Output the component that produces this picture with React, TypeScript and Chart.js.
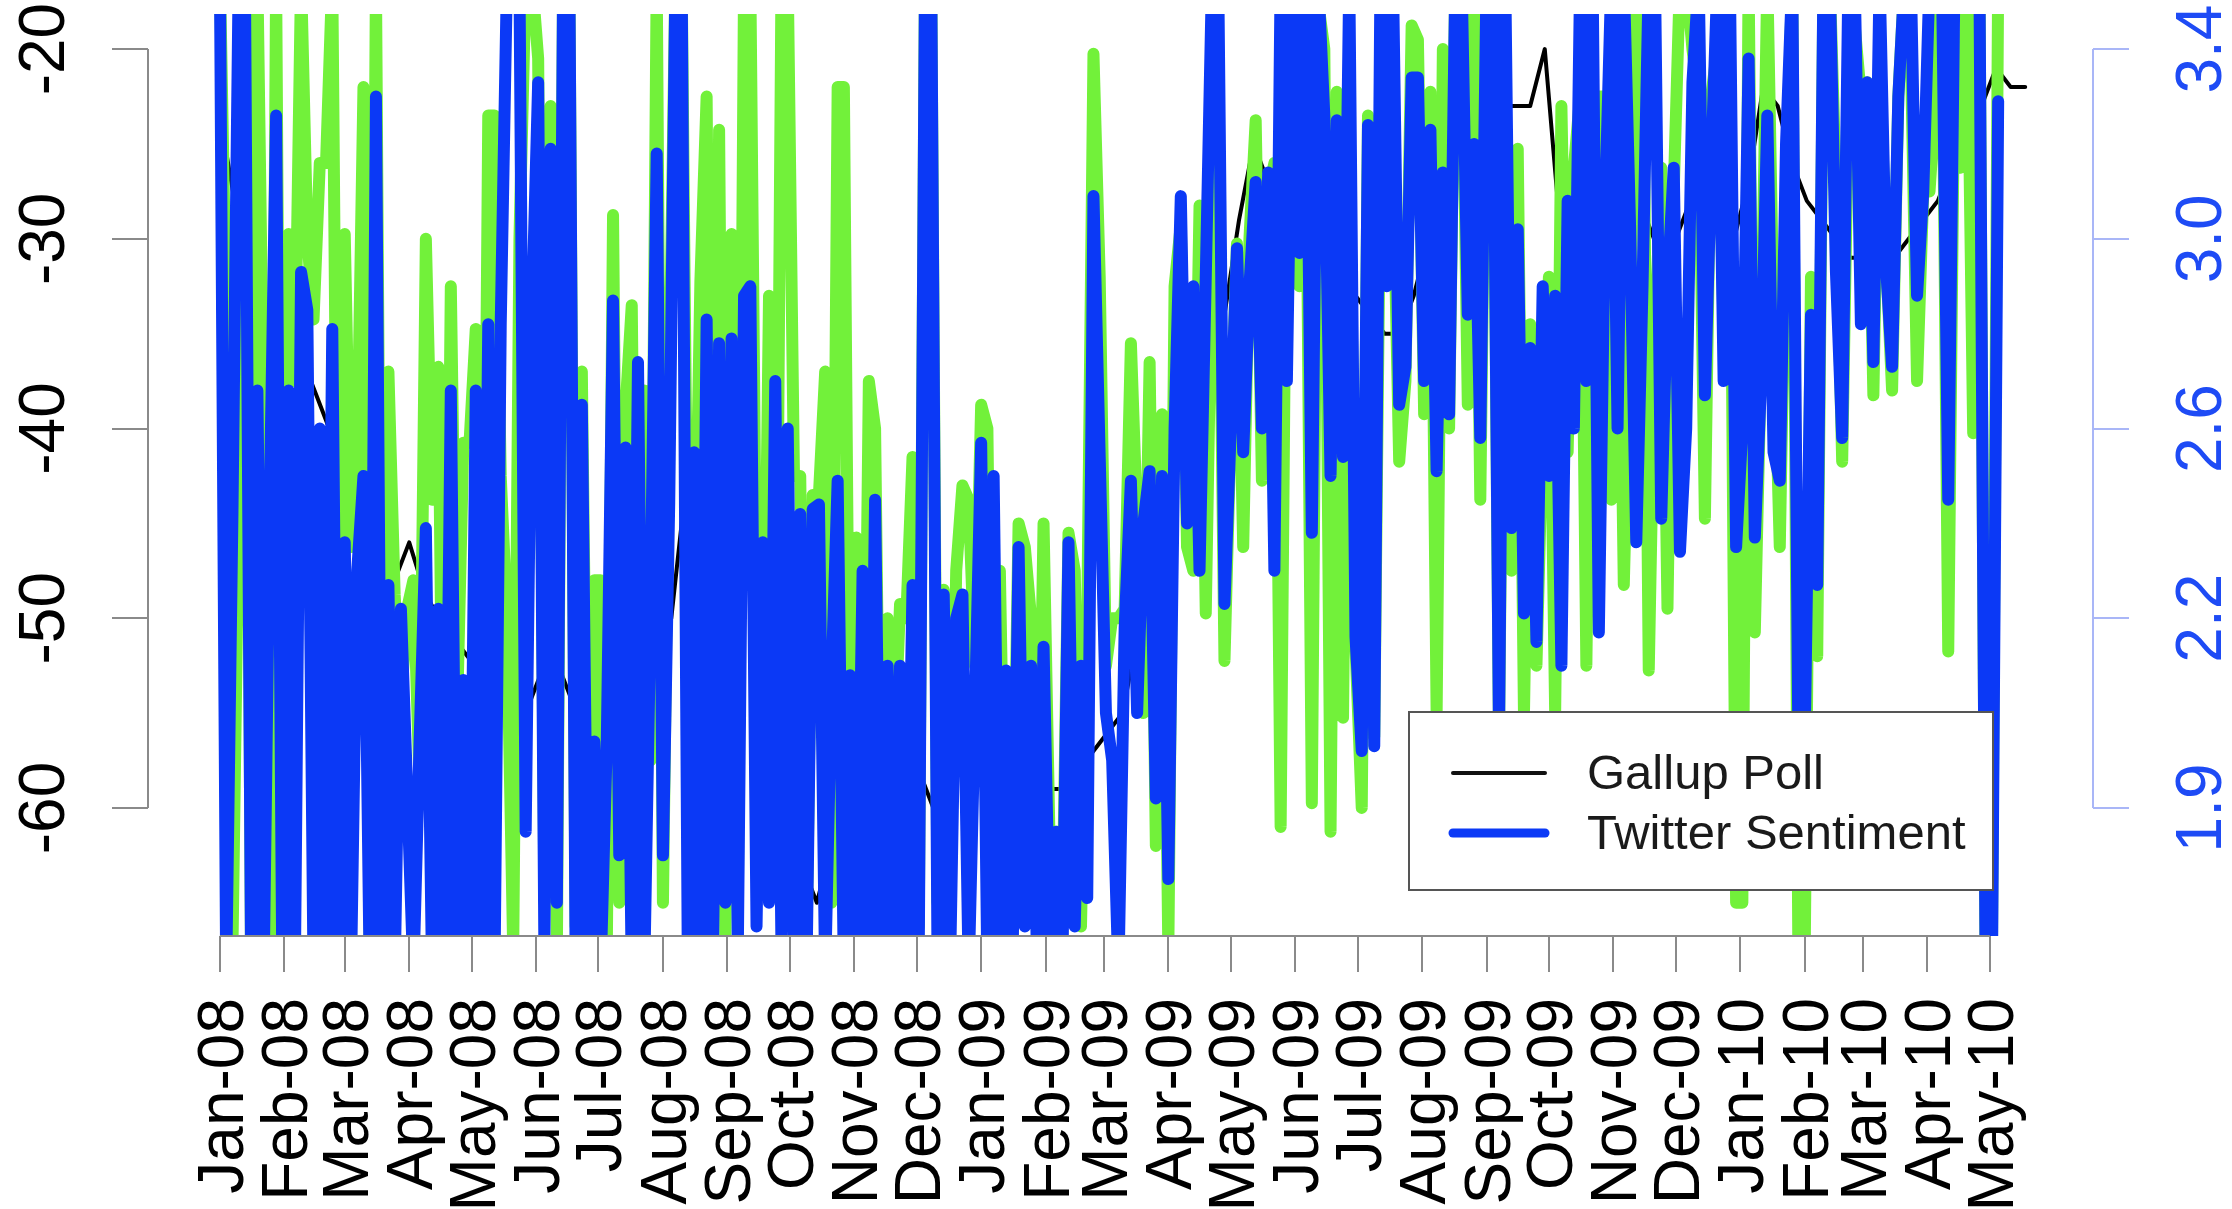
import React, { useEffect, useRef } from "react";
import { Chart, registerables } from "chart.js";

Chart.register(...registerables);

// ---------- data ----------
// month tick positions (days since 1 Jan 2008) and their labels
const monthTickDays = [0, 31, 60, 91, 121, 152, 182, 213, 244, 274, 305, 335, 366, 397, 425, 456, 486, 517, 547, 578, 609, 639, 670, 700, 731, 762, 790, 821, 851];
const monthTickLabels = ["Jan-08", "Feb-08", "Mar-08", "Apr-08", "May-08", "Jun-08", "Jul-08", "Aug-08", "Sep-08", "Oct-08", "Nov-08", "Dec-08", "Jan-09", "Feb-09", "Mar-09", "Apr-09", "May-09", "Jun-09", "Jul-09", "Aug-09", "Sep-09", "Oct-09", "Nov-09", "Dec-09", "Jan-10", "Feb-10", "Mar-10", "Apr-10", "May-10"];

const gallupTicks = [-20, -30, -40, -50, -60];
const gallupTickLabels = ["-20", "-30", "-40", "-50", "-60"];
const sentimentTicks = [3.4, 3.0, 2.6, 2.2, 1.8];
const sentimentTickLabels = ["3.4", "3.0", "2.6", "2.2", "1.9"];

// Gallup poll, weekly from day 0
const gallupStepDays = 7;
const gallupPoll = [
  -23.5, -28, -32, -35.5, -34, -36, -37, -39, -41, -43,
  -44, -46, -48, -46, -48.5, -50, -51, -52, -53, -52,
  -54, -55, -53, -52, -54, -56, -54, -51, -50, -48,
  -49, -50, -43, -42, -41, -42, -41, -46, -55, -60,
  -63, -65, -62, -56, -57, -58, -57, -56, -58, -60,
  -58, -56, -55, -54, -55, -57, -58, -59, -59, -58,
  -57, -56, -55, -51, -46, -40, -39, -33, -30, -34,
  -29, -25, -27, -27, -26, -28, -30, -31, -33, -34,
  -35, -35, -33, -30, -26, -24, -24, -23, -23, -23,
  -23, -20, -29, -28, -27, -25, -24, -26, -29, -31,
  -30, -28, -27, -29, -30, -27, -22, -23, -26, -28,
  -29, -30, -31, -31, -32, -31, -30, -29, -28, -26,
  -25, -23, -21, -22, -22,
];

// Twitter sentiment, every 3 days from day 0
const twitterStepDays = 3;
const twitterSentiment = [
  3.55, 1.45, 2.42, 3.55, 3.55, 1.45, 2.68, 1.45, 2.46, 3.26,
  1.45, 2.68, 1.45, 2.93, 2.85, 1.45, 2.6, 1.45, 2.81, 1.45,
  2.36, 1.45, 2.3, 2.5, 1.45, 3.30, 1.45, 2.27, 1.45, 2.22,
  1.84, 1.45, 1.94, 2.39, 1.45, 2.22, 1.45, 2.68, 1.45, 2.07,
  1.45, 2.68, 1.45, 2.82, 1.45, 2.82, 3.55, 3.55,
  3.55, 1.75, 2.84, 3.33, 1.5, 3.19, 1.6, 3.55, 3.55, 1.5,
  2.65, 1.45, 1.94, 1.45, 1.94, 2.87, 1.7, 2.56, 1.45, 2.74,
  1.45, 2.21, 3.18, 1.7, 2.44, 3.55, 3.55, 1.45, 2.55, 1.45,
  2.83, 1.45, 2.78, 1.6, 2.79, 1.5, 2.88, 2.9, 1.55, 2.36,
  1.6, 2.70, 1.5, 2.6, 1.5, 2.42, 1.45, 2.43,
  2.44, 1.45, 2.06, 2.49, 1.45, 2.08, 1.45, 2.3, 1.45, 2.45,
  1.45, 2.1, 1.5, 2.1, 1.45, 2.27, 1.5, 3.55, 3.55, 1.5,
  2.25, 1.45, 2.2, 2.25, 1.45, 2.0, 2.57, 1.45, 2.5, 1.45,
  2.09, 1.45, 2.35, 1.55, 2.1, 1.45, 2.14, 1.5, 1.75, 1.45,
  2.36, 1.55, 2.1, 1.61, 3.09, 2.54, 2.0, 1.9,
  1.45, 2.18, 2.49, 2.0, 2.4, 2.51, 1.82, 2.50, 1.65, 2.6,
  3.09, 2.40, 2.9, 2.3, 2.92, 3.55, 3.55, 2.23, 2.6, 2.98,
  2.55, 2.9, 3.12, 2.6, 3.14, 2.30, 3.55, 2.7, 3.55, 2.97,
  3.55, 2.38, 3.55, 3.26, 2.5, 3.25, 2.54, 3.55, 2.16, 1.92,
  3.24, 1.93, 3.55, 2.9, 3.55, 2.65, 2.73, 3.34,
  3.34, 2.7, 3.23, 2.51, 3.14, 2.63, 3.55, 3.55, 2.84, 3.2,
  2.58, 3.55, 3.55, 1.95, 3.55, 2.39, 3.02, 2.21, 2.77, 2.15,
  2.9, 2.5, 2.88, 2.1, 3.08, 2.6, 3.55, 2.7, 3.55, 2.17,
  3.07, 3.55, 2.6, 3.55, 3.03, 2.36, 2.9, 3.55, 3.55, 2.41,
  2.9, 3.15, 2.34, 2.6, 3.33, 3.55, 2.67, 3.15,
  3.55, 2.7, 3.55, 2.35, 2.6, 3.38, 2.37, 2.7, 3.26, 2.55,
  2.49, 3.2, 3.55, 1.9, 1.95, 2.84, 2.27, 3.55, 3.55, 2.93,
  2.58, 3.55, 3.55, 2.82, 3.33, 2.74, 3.55, 2.95, 2.73, 3.3,
  3.55, 3.55, 2.88, 3.1, 3.55, 3.55, 3.55, 2.45, 3.55, 3.55,
  3.55, 3.55, 3.55, 1.45, 1.45, 3.29,
];

// second (unlabelled, green) sentiment series, same days
const twitterSentimentRaw = [
  3.55, 2.82, 1.5, 2.45, 3.55, 1.45, 3.55, 2.6, 1.45, 3.55,
  1.5, 3.01, 2.7, 3.55, 3.0, 2.83, 3.16, 3.16, 3.55, 2.0,
  3.01, 2.35, 2.53, 3.32, 1.5, 3.55, 1.6, 2.72, 2.25, 2.02,
  2.22, 2.28, 1.85, 3.0, 2.45, 2.73, 1.5, 2.9, 2.0, 2.57,
  2.57, 2.81, 1.6, 3.26, 3.26, 2.5, 2.2, 1.5,
  3.0, 3.55, 3.55, 3.38, 1.6, 3.28, 1.5, 3.55, 3.55, 1.55,
  2.72, 1.6, 2.28, 2.28, 1.5, 3.05, 1.6, 2.64, 2.86, 1.6,
  2.68, 1.9, 3.55, 1.6, 2.67, 3.55, 3.55, 2.2, 2.16, 2.91,
  3.3, 1.55, 3.23, 1.5, 3.01, 1.6, 3.55, 3.55, 2.16, 1.8,
  2.88, 1.75, 3.55, 3.55, 2.5, 2.5, 1.5, 2.46,
  2.46, 2.72, 1.6, 3.32, 3.32, 1.7, 2.37, 1.5, 2.7, 2.6,
  1.5, 2.20, 1.9, 2.23, 2.2, 2.54, 1.55, 3.55, 3.55, 1.6,
  2.26, 1.55, 2.3, 2.48, 2.45, 2.1, 2.65, 2.6, 1.5, 2.30,
  1.55, 1.6, 2.40, 2.35, 2.2, 1.55, 2.40, 1.7, 1.75, 1.55,
  2.38, 2.3, 1.55, 2.2, 3.39, 2.92, 2.1, 2.2,
  2.2, 2.22, 2.78, 2.4, 2.0, 2.74, 1.72, 2.63, 1.5, 2.9,
  3.03, 2.35, 2.3, 3.07, 2.21, 3.0, 3.2, 2.11, 2.6, 2.99,
  2.35, 3.0, 3.25, 2.49, 3.1, 3.16, 1.76, 3.3, 3.3, 2.9,
  3.4, 1.81, 3.5, 3.40, 1.75, 3.31, 1.99, 3.3, 2.14, 1.80,
  3.26, 1.95, 3.2, 3.2, 3.17, 2.53, 2.7, 3.45,
  3.42, 2.63, 3.31, 2.0, 3.40, 2.6, 3.55, 3.55, 2.65, 3.55,
  2.45, 3.55, 3.5, 1.95, 3.3, 2.30, 3.19, 2.0, 2.82, 2.1,
  2.6, 2.92, 2.0, 3.28, 2.55, 3.15, 3.3, 2.1, 3.15, 3.3,
  3.3, 2.45, 3.24, 2.27, 2.8, 3.55, 3.55, 2.09, 2.8, 3.15,
  2.22, 3.1, 3.55, 3.55, 3.4, 3.3, 2.41, 3.3,
  3.4, 2.8, 3.3, 1.6, 1.6, 3.55, 2.17, 2.75, 3.55, 2.83,
  2.35, 3.1, 3.55, 1.45, 1.5, 2.92, 2.12, 3.55, 3.55, 3.1,
  2.53, 3.3, 3.45, 3.3, 3.33, 2.67, 3.4, 2.97, 2.68, 3.3,
  3.55, 3.4, 2.70, 3.1, 3.1, 3.3, 3.55, 2.13, 3.4, 3.15,
  3.55, 2.59, 3.55, 1.45, 1.5, 3.55,
];

const seriesLabels = ["Gallup Poll", "Twitter Sentiment"];

// ---------- styling ----------
const FONT = '"Liberation Sans", Arial, Helvetica, sans-serif';
const BLUE = "#0b39f6";
const GREEN = "#72f13a";
const AXIS_FONT_PX = 64;

const rAxesPlugin = {
  id: "rAxes",
  afterDraw(chart: any) {
    const ctx = chart.ctx as CanvasRenderingContext2D;
    const xs = chart.scales.x;
    const ys = chart.scales.y;
    const ys1 = chart.scales.y1;
    const { left, right, bottom } = chart.chartArea;
    ctx.save();
    ctx.lineCap = "butt";

    // ---- bottom axis ----
    ctx.strokeStyle = "#8a8a8a";
    ctx.lineWidth = 2;
    ctx.beginPath();
    const xa = xs.getPixelForValue(monthTickDays[0]);
    const xb = xs.getPixelForValue(monthTickDays[monthTickDays.length - 1]);
    ctx.moveTo(xa, bottom);
    ctx.lineTo(xb, bottom);
    monthTickDays.forEach((d) => {
      const px = Math.round(xs.getPixelForValue(d));
      ctx.moveTo(px, bottom);
      ctx.lineTo(px, bottom + 36);
    });
    ctx.stroke();
    ctx.fillStyle = "#000";
    ctx.font = `${AXIS_FONT_PX}px ${FONT}`;
    ctx.textAlign = "right";
    ctx.textBaseline = "alphabetic";
    monthTickDays.forEach((d, i) => {
      const px = xs.getPixelForValue(d);
      ctx.save();
      ctx.translate(px + 23, bottom + 62);
      ctx.rotate(-Math.PI / 2);
      ctx.fillText(monthTickLabels[i], 0, 0);
      ctx.restore();
    });

    // ---- left axis ----
    ctx.strokeStyle = "#8a8a8a";
    ctx.beginPath();
    ctx.moveTo(left, ys.getPixelForValue(gallupTicks[0]));
    ctx.lineTo(left, ys.getPixelForValue(gallupTicks[gallupTicks.length - 1]));
    gallupTicks.forEach((v) => {
      const py = Math.round(ys.getPixelForValue(v));
      ctx.moveTo(left, py);
      ctx.lineTo(left - 36, py);
    });
    ctx.stroke();
    ctx.textAlign = "center";
    gallupTicks.forEach((v, i) => {
      const py = ys.getPixelForValue(v);
      ctx.save();
      ctx.translate(left - 84, py);
      ctx.rotate(-Math.PI / 2);
      ctx.fillText(gallupTickLabels[i], 0, 0);
      ctx.restore();
    });

    // ---- right axis ----
    ctx.strokeStyle = "#a9b6f7";
    ctx.beginPath();
    ctx.moveTo(right, ys1.getPixelForValue(sentimentTicks[0]));
    ctx.lineTo(right, ys1.getPixelForValue(sentimentTicks[sentimentTicks.length - 1]));
    sentimentTicks.forEach((v) => {
      const py = Math.round(ys1.getPixelForValue(v));
      ctx.moveTo(right, py);
      ctx.lineTo(right + 36, py);
    });
    ctx.stroke();
    ctx.fillStyle = "#1e4bf5";
    sentimentTicks.forEach((v, i) => {
      const py = ys1.getPixelForValue(v);
      ctx.save();
      ctx.translate(right + 128, py);
      ctx.rotate(-Math.PI / 2);
      ctx.fillText(sentimentTickLabels[i], 0, 0);
      ctx.restore();
    });

    // ---- legend ----
    const bx = 1409, by = 712, bw = 584, bh = 178;
    ctx.fillStyle = "#ffffff";
    ctx.fillRect(bx, by, bw, bh);
    ctx.strokeStyle = "#555555";
    ctx.lineWidth = 2;
    ctx.strokeRect(bx, by, bw, bh);
    const rows = [
      { y: by + 61, color: "#111111", width: 4, label: seriesLabels[0] },
      { y: by + 121, color: BLUE, width: 9, label: seriesLabels[1] },
    ];
    ctx.font = `49px ${FONT}`;
    ctx.textAlign = "left";
    ctx.textBaseline = "middle";
    rows.forEach((r) => {
      ctx.strokeStyle = r.color;
      ctx.lineWidth = r.width;
      ctx.lineCap = "round";
      ctx.beginPath();
      ctx.moveTo(bx + 44, r.y);
      ctx.lineTo(bx + 136, r.y);
      ctx.stroke();
      ctx.fillStyle = "#1a1a1a";
      ctx.fillText(r.label, bx + 178, r.y + 2);
    });
    ctx.restore();
  },
};

export default function App() {
  const canvasRef = useRef<HTMLCanvasElement>(null);

  useEffect(() => {
    document.body.style.margin = "0";
    const canvas = canvasRef.current;
    if (!canvas) return;

    const gallupPoints = gallupPoll.map((v, i) => ({ x: i * gallupStepDays, y: v }));
    const bluePoints = twitterSentiment.map((v, i) => ({ x: i * twitterStepDays, y: v }));
    const greenPoints = twitterSentimentRaw.map((v, i) => ({ x: i * twitterStepDays, y: v }));

    const lineCommon = {
      pointRadius: 0,
      tension: 0,
      fill: false,
      borderCapStyle: "round" as const,
      borderJoinStyle: "round" as const,
      clip: 0,
    };

    const chart = new Chart(canvas, {
      type: "line",
      data: {
        datasets: [
          { ...lineCommon, label: seriesLabels[0], data: gallupPoints, borderColor: "#000000", borderWidth: 4, yAxisID: "y", order: 3 },
          { ...lineCommon, label: "Twitter Sentiment (raw)", data: greenPoints, borderColor: GREEN, borderWidth: 12, yAxisID: "y1", order: 2 },
          { ...lineCommon, label: seriesLabels[1], data: bluePoints, borderColor: BLUE, borderWidth: 12, yAxisID: "y1", order: 1 },
        ],
      },
      options: {
        animation: false,
        responsive: false,
        devicePixelRatio: 1,
        events: [],
        layout: { padding: { left: 148, right: 139, top: 14, bottom: 273 } },
        plugins: { legend: { display: false }, tooltip: { enabled: false } },
        scales: {
          x: { type: "linear", min: -34.6, max: 900.6, display: false },
          y: { type: "linear", min: -66.75, max: -18.15, display: false },
          y1: { type: "linear", min: 1.53, max: 3.474, display: false, position: "right" },
        },
      },
      plugins: [rAxesPlugin],
    });
    return () => chart.destroy();
  }, []);

  return (
    <div style={{ position: "absolute", left: 0, top: 0, width: 2232, height: 1209, background: "#ffffff" }}>
      <canvas ref={canvasRef} width={2232} height={1209} style={{ width: 2232, height: 1209, display: "block" }} />
    </div>
  );
}
